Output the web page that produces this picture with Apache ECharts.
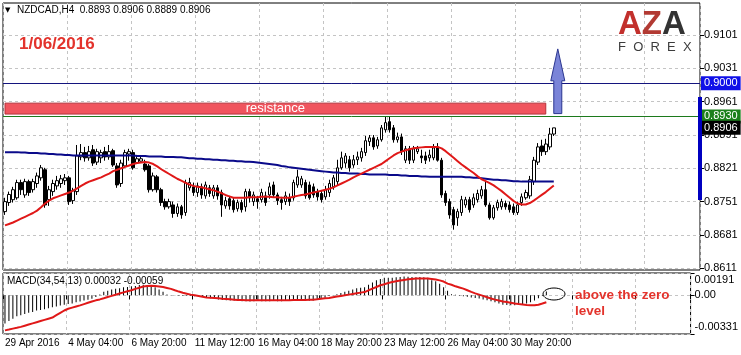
<!DOCTYPE html>
<html>
<head>
<meta charset="utf-8">
<script src="https://cdn.jsdelivr.net/npm/echarts@6/dist/echarts.min.js"></script>
<style>
html,body{margin:0;padding:0;background:#fff;}
#chart{width:741px;height:355px;}
</style>
</head>
<body>
<div id="chart"></div>
<script>
// ---- data ----
const symbolTitle = 'NZDCAD,H4  0.8893 0.8906 0.8889 0.8906';
const dateLabel = '1/06/2016';
const macdTitle = 'MACD(34,54,13) 0.00032 -0.00059';
const slotCount = 174;
const tickLabels = ['29 Apr 2016','4 May 04:00','6 May 20:00','11 May 12:00','16 May 04:00','18 May 20:00','23 May 12:00','26 May 04:00','30 May 20:00'];
const tickEvery = 16;
const priceTicks = [0.8611,0.8681,0.8751,0.8821,0.8891,0.8961,0.9031,0.9101];
const macdTicks = [0.00191,0,-0.00331];
const levelBlue = 0.9000, levelGreen = 0.8930, lastBid = 0.8906;
const resistance = {from:0, to:135, low:0.8935, high:0.8958, label:'resistance'};
const arrow = [138, 0.8936, 0.9005, 0.9072];

// [open, close, low, high]
const candles = [
[0.8730,0.8751,0.8723,0.8759],[0.8749,0.8766,0.8742,0.8772],[0.8755,0.8776,0.8749,0.8782],[0.8759,0.8791,0.8755,0.8797],
[0.8791,0.8776,0.8765,0.8797],[0.8765,0.8793,0.8759,0.8799],[0.8793,0.8770,0.8763,0.8797],[0.8776,0.8793,0.8770,0.8799],
[0.8789,0.8805,0.8780,0.8812],[0.8801,0.8822,0.8795,0.8828],[0.8818,0.8744,0.8738,0.8822],[0.8755,0.8776,0.8742,0.8784],
[0.8772,0.8789,0.8763,0.8797],[0.8784,0.8795,0.8776,0.8805],[0.8789,0.8799,0.8780,0.8807],[0.8795,0.8801,0.8786,0.8809],
[0.8801,0.8751,0.8744,0.8805],[0.8753,0.8774,0.8746,0.8780],[0.8772,0.8847,0.8765,0.8870],[0.8845,0.8854,0.8838,0.8872],
[0.8854,0.8843,0.8835,0.8866],[0.8843,0.8856,0.8837,0.8868],[0.8860,0.8832,0.8826,0.8870],[0.8834,0.8856,0.8828,0.8862],
[0.8843,0.8854,0.8832,0.8860],[0.8856,0.8845,0.8837,0.8866],[0.8845,0.8856,0.8839,0.8870],[0.8858,0.8828,0.8824,0.8862],
[0.8826,0.8786,0.8780,0.8832],[0.8789,0.8832,0.8782,0.8839],[0.8826,0.8854,0.8822,0.8860],[0.8851,0.8856,0.8837,0.8862],
[0.8854,0.8822,0.8818,0.8860],[0.8833,0.8841,0.8832,0.8849],[0.8836,0.8841,0.8835,0.8845],[0.8830,0.8818,0.8814,0.8839],
[0.8826,0.8776,0.8770,0.8830],[0.8776,0.8805,0.8772,0.8812],[0.8803,0.8776,0.8770,0.8807],[0.8776,0.8749,0.8742,0.8780],
[0.8751,0.8740,0.8734,0.8757],[0.8740,0.8751,0.8736,0.8757],[0.8744,0.8726,0.8717,0.8751],[0.8726,0.8740,0.8719,0.8747],
[0.8740,0.8723,0.8715,0.8744],[0.8728,0.8791,0.8721,0.8797],[0.8780,0.8791,0.8774,0.8801],[0.8782,0.8770,0.8763,0.8791],
[0.8770,0.8784,0.8761,0.8791],[0.8782,0.8765,0.8757,0.8789],[0.8763,0.8786,0.8757,0.8793],[0.8780,0.8768,0.8761,0.8786],
[0.8763,0.8780,0.8757,0.8786],[0.8780,0.8763,0.8755,0.8786],[0.8770,0.8744,0.8719,0.8776],[0.8742,0.8753,0.8736,0.8761],
[0.8757,0.8742,0.8734,0.8763],[0.8753,0.8734,0.8728,0.8759],[0.8736,0.8749,0.8730,0.8755],[0.8749,0.8734,0.8728,0.8755],
[0.8740,0.8772,0.8730,0.8778],[0.8772,0.8759,0.8749,0.8778],[0.8751,0.8765,0.8742,0.8772],[0.8757,0.8751,0.8736,0.8763],
[0.8755,0.8770,0.8749,0.8778],[0.8763,0.8749,0.8742,0.8772],[0.8765,0.8782,0.8757,0.8791],[0.8786,0.8765,0.8759,0.8793],
[0.8765,0.8753,0.8744,0.8770],[0.8755,0.8749,0.8734,0.8761],[0.8751,0.8763,0.8744,0.8772],[0.8759,0.8751,0.8742,0.8768],
[0.8759,0.8791,0.8753,0.8797],[0.8786,0.8803,0.8780,0.8818],[0.8786,0.8799,0.8780,0.8805],[0.8791,0.8763,0.8757,0.8797],
[0.8786,0.8759,0.8755,0.8793],[0.8782,0.8765,0.8759,0.8789],[0.8772,0.8761,0.8753,0.8778],[0.8768,0.8755,0.8749,0.8774],
[0.8761,0.8776,0.8755,0.8784],[0.8770,0.8789,0.8761,0.8797],[0.8782,0.8801,0.8776,0.8807],[0.8793,0.8822,0.8786,0.8839],
[0.8822,0.8843,0.8818,0.8856],[0.8832,0.8847,0.8822,0.8853],[0.8839,0.8822,0.8814,0.8847],[0.8828,0.8839,0.8822,0.8849],
[0.8839,0.8845,0.8828,0.8856],[0.8843,0.8856,0.8835,0.8864],[0.8854,0.8879,0.8847,0.8889],[0.8877,0.8885,0.8868,0.8891],
[0.8885,0.8866,0.8860,0.8891],[0.8868,0.8881,0.8862,0.8887],[0.8881,0.8906,0.8877,0.8912],[0.8902,0.8917,0.8896,0.8929],
[0.8919,0.8902,0.8896,0.8929],[0.8906,0.8881,0.8875,0.8912],[0.8881,0.8887,0.8875,0.8896],[0.8887,0.8856,0.8849,0.8894],
[0.8838,0.8862,0.8832,0.8868],[0.8862,0.8838,0.8830,0.8868],[0.8838,0.8862,0.8832,0.8868],[0.8856,0.8862,0.8851,0.8868],
[0.8847,0.8843,0.8832,0.8860],[0.8847,0.8838,0.8830,0.8856],[0.8843,0.8849,0.8835,0.8860],[0.8843,0.8864,0.8838,0.8872],
[0.8866,0.8838,0.8835,0.8874],[0.8838,0.8765,0.8759,0.8843],[0.8768,0.8749,0.8742,0.8774],[0.8751,0.8723,0.8715,0.8757],
[0.8734,0.8702,0.8692,0.8740],[0.8717,0.8730,0.8700,0.8736],[0.8728,0.8755,0.8721,0.8763],[0.8744,0.8755,0.8738,0.8761],
[0.8755,0.8734,0.8728,0.8761],[0.8744,0.8759,0.8738,0.8768],[0.8755,0.8768,0.8749,0.8776],[0.8763,0.8776,0.8757,0.8784],
[0.8776,0.8744,0.8740,0.8793],[0.8744,0.8717,0.8713,0.8749],[0.8717,0.8738,0.8713,0.8744],[0.8738,0.8749,0.8732,0.8755],
[0.8740,0.8751,0.8734,0.8757],[0.8747,0.8740,0.8734,0.8753],[0.8744,0.8734,0.8728,0.8751],[0.8740,0.8728,0.8723,0.8747],
[0.8728,0.8744,0.8723,0.8751],[0.8749,0.8761,0.8742,0.8768],[0.8759,0.8770,0.8755,0.8776],[0.8763,0.8797,0.8757,0.8805],
[0.8793,0.8838,0.8786,0.8845],[0.8834,0.8866,0.8828,0.8874],[0.8868,0.8856,0.8847,0.8881],[0.8856,0.8872,0.8849,0.8883],
[0.8866,0.8893,0.8860,0.8906],[0.8893,0.8906,0.8889,0.8906]
];

const maSlow = [
0.8855,0.8855,0.8855,0.8855,0.8854,0.8854,0.8853,0.8853,0.8853,0.8852,
0.8852,0.8851,0.8851,0.8850,0.8850,0.8849,0.8849,0.8848,0.8848,0.8848,
0.8848,0.8848,0.8848,0.8848,0.8848,0.8848,0.8848,0.8848,0.8848,0.8848,
0.8848,0.8848,0.8848,0.8847,0.8847,0.8847,0.8846,0.8846,0.8846,0.8846,
0.8845,0.8845,0.8845,0.8844,0.8844,0.8843,0.8842,0.8842,0.8841,0.8841,
0.8840,0.8840,0.8839,0.8839,0.8838,0.8838,0.8837,0.8837,0.8836,0.8836,
0.8835,0.8835,0.8834,0.8833,0.8832,0.8831,0.8830,0.8829,0.8828,0.8826,
0.8825,0.8823,0.8822,0.8821,0.8820,0.8819,0.8818,0.8817,0.8816,0.8815,
0.8814,0.8813,0.8812,0.8812,0.8811,0.8811,0.8810,0.8810,0.8810,0.8809,
0.8809,0.8808,0.8808,0.8808,0.8808,0.8808,0.8807,0.8807,0.8807,0.8806,
0.8806,0.8805,0.8805,0.8805,0.8804,0.8804,0.8803,0.8803,0.8803,0.8803,
0.8803,0.8803,0.8803,0.8803,0.8803,0.8802,0.8802,0.8801,0.8801,0.8800,
0.8799,0.8798,0.8797,0.8797,0.8796,0.8796,0.8795,0.8794,0.8794,0.8793,
0.8793,0.8793,0.8793,0.8793,0.8793,0.8793,0.8793,0.8793
];

const maFast = [
0.8701,0.8704,0.8707,0.8711,0.8715,0.8719,0.8723,0.8727,0.8732,0.8739,
0.8747,0.8753,0.8758,0.8761,0.8764,0.8767,0.8770,0.8774,0.8779,0.8784,
0.8789,0.8793,0.8796,0.8799,0.8802,0.8806,0.8810,0.8815,0.8818,0.8821,
0.8824,0.8827,0.8830,0.8832,0.8833,0.8834,0.8833,0.8830,0.8825,0.8819,
0.8814,0.8809,0.8804,0.8799,0.8795,0.8791,0.8787,0.8784,0.8782,0.8781,
0.8779,0.8777,0.8775,0.8772,0.8769,0.8765,0.8762,0.8759,0.8759,0.8759,
0.8759,0.8760,0.8760,0.8760,0.8761,0.8761,0.8761,0.8760,0.8760,0.8759,
0.8759,0.8759,0.8761,0.8763,0.8765,0.8766,0.8768,0.8770,0.8772,0.8774,
0.8776,0.8778,0.8781,0.8785,0.8789,0.8793,0.8797,0.8802,0.8806,0.8810,
0.8814,0.8818,0.8822,0.8826,0.8830,0.8836,0.8842,0.8848,0.8853,0.8856,
0.8859,0.8861,0.8863,0.8864,0.8865,0.8866,0.8866,0.8866,0.8866,0.8863,
0.8857,0.8850,0.8843,0.8836,0.8829,0.8823,0.8817,0.8811,0.8804,0.8798,
0.8794,0.8790,0.8785,0.8779,0.8773,0.8766,0.8759,0.8752,0.8747,0.8745,
0.8745,0.8748,0.8753,0.8759,0.8765,0.8771,0.8778,0.8785
];

const macdMain = [
-0.00242,-0.0022,-0.0020,-0.0018,-0.0017,-0.0016,-0.0015,-0.00143,-0.0013,-0.00125,
-0.0012,-0.0011,-0.00102,-0.00095,-0.00088,-0.0008,-0.00075,-0.0007,-0.0006,-0.00052,
-0.00045,-0.00038,-0.0003,-0.00015,0.00008,0.0003,0.0004,0.0005,0.00057,0.0006,
0.00068,0.00072,0.00077,0.0008,0.00088,0.0009,0.00088,0.00085,0.0007,0.0005,
0.0003,0.00008,0.00003,-0.00002,-0.00003,-0.00005,-0.00005,-0.00006,-0.00008,-0.0001,
-0.00015,-0.0002,-0.00025,-0.0003,-0.00035,-0.0004,-0.00042,-0.00045,-0.00045,-0.00048,
-0.0005,-0.0005,-0.00052,-0.0005,-0.00049,-0.0005,-0.00051,-0.0005,-0.00048,-0.0005,
-0.0005,-0.00049,-0.00046,-0.00045,-0.00047,-0.00048,-0.00047,-0.00046,-0.00045,-0.0004,
-0.0003,-0.0002,-0.00005,0.00003,0.0001,0.0002,0.0003,0.0004,0.0005,0.0006,
0.00065,0.0007,0.0009,0.0011,0.00128,0.0014,0.0015,0.0015,0.0015,0.00155,
0.00157,0.0016,0.00158,0.00156,0.00155,0.00157,0.00155,0.0015,0.0013,0.0012,
0.001,0.0007,0.0004,0.0001,0.00004,-0.00003,-0.00008,-0.00012,-0.00018,-0.00022,
-0.00028,-0.00035,-0.00042,-0.0005,-0.0006,-0.0007,-0.0008,-0.00083,-0.00086,-0.00086,
-0.00083,-0.0008,-0.0007,-0.0006,-0.00045,-0.00025,-0.00005,0.00032
];

const macdSignal = [
-0.0030,-0.00293,-0.00285,-0.00278,-0.0027,-0.0026,-0.0025,-0.0024,-0.0023,-0.0022,
-0.0021,-0.0020,-0.0019,-0.0017,-0.0015,-0.0013,-0.00115,-0.00105,-0.00095,-0.00086,
-0.00075,-0.00064,-0.00053,-0.00043,-0.00035,-0.00025,-0.00014,-0.00005,0.00005,0.00015,
0.00025,0.00035,0.00043,0.00055,0.00065,0.00075,0.0008,0.00081,0.0008,0.00076,
0.00071,0.00063,0.00055,0.00043,0.00032,0.00022,0.00014,0.00006,0.0,-0.00006,
-0.00012,-0.00018,-0.0002,-0.00023,-0.00026,-0.00029,-0.00031,-0.00034,-0.00037,-0.0004,
-0.00041,-0.00042,-0.00043,-0.00043,-0.00043,-0.00043,-0.00043,-0.00043,-0.00043,-0.00043,
-0.00043,-0.00043,-0.00042,-0.00041,-0.0004,-0.0004,-0.00039,-0.00038,-0.00037,-0.00034,
-0.0003,-0.00026,-0.00023,-0.00016,-0.0001,-0.00005,0.0,0.00006,0.00012,0.00018,
0.00023,0.00028,0.00043,0.00057,0.00071,0.00086,0.00095,0.00105,0.00114,0.0012,
0.00126,0.00132,0.00137,0.0014,0.00143,0.00143,0.00143,0.00143,0.0014,0.00135,
0.00128,0.00118,0.001,0.0009,0.00077,0.00067,0.00057,0.00043,0.00029,0.00017,
0.00006,-0.00005,-0.00017,-0.00027,-0.00037,-0.00045,-0.00052,-0.00058,-0.00064,-0.0007,
-0.00075,-0.00079,-0.00083,-0.00086,-0.00085,-0.0008,-0.0007,-0.00059
];

// ---- chart ----
const categories = Array.from({length: slotCount}, (_, i) => String(i));
const FONT = 'Liberation Sans, Arial, sans-serif';
const gridLine = {show: true, interval: tickEvery - 1, lineStyle: {color: '#c4c4c4', type: [3, 3], width: 1}};
const chart = echarts.init(document.getElementById('chart'), null, {renderer: 'canvas'});

function levelLabel(bg) {
  return {show: true, position: 'end', distance: 1, formatter: p => Number(p.value).toFixed(4),
    backgroundColor: bg, color: '#fff', padding: [2, 3, 1, 3], fontSize: 11, fontFamily: FONT};
}

const option = {
  animation: false,
  backgroundColor: '#fff',
  grid: [
    {left: 3, right: 41, top: 3, height: 267, show: true, borderColor: '#000', borderWidth: 1},
    {left: 3, right: 41, top: 273, height: 61, show: true, borderColor: '#000', borderWidth: 1}
  ],
  xAxis: [
    {gridIndex: 0, type: 'category', data: categories, boundaryGap: true,
     axisLine: {show: false}, axisTick: {show: false}, axisLabel: {show: false}, splitLine: gridLine},
    {gridIndex: 1, type: 'category', data: categories, boundaryGap: true,
     axisLine: {show: false},
     axisTick: {show: true, interval: tickEvery - 1, length: 4, lineStyle: {color: '#000'}},
     axisLabel: {show: true, interval: tickEvery - 1, align: 'left', margin: 4, fontSize: 10, color: '#000', fontFamily: FONT,
       formatter: (v, idx) => (idx % tickEvery === 0 && tickLabels[idx / tickEvery]) ? tickLabels[idx / tickEvery] : ''},
     splitLine: gridLine}
  ],
  yAxis: [
    {gridIndex: 0, type: 'value', position: 'right', min: 0.86072, max: 0.91685, scale: true,
     axisLine: {show: false},
     axisTick: {show: true, customValues: priceTicks, length: 4, lineStyle: {color: '#000'}},
     axisLabel: {customValues: priceTicks, formatter: v => v.toFixed(4), fontSize: 11, color: '#000', margin: 4, fontFamily: FONT},
     splitLine: {show: true, lineStyle: {color: '#c4c4c4', type: [3, 3]}}},
    {gridIndex: 1, type: 'value', position: 'right', min: -0.00331, max: 0.00191,
     axisLine: {show: false},
     axisTick: {show: true, customValues: macdTicks, length: 4, lineStyle: {color: '#000'}},
     axisLabel: {customValues: macdTicks, fontSize: 11, color: '#000', margin: 4, fontFamily: FONT,
       formatter: v => v > 0 ? '{t|' + v.toFixed(5) + '}' : (v < 0 ? '{b|' + v.toFixed(5) + '}' : '0.00'),
       rich: {t: {padding: [14, 0, 0, 0], fontSize: 11, fontFamily: FONT}, b: {padding: [0, 0, 14, 0], fontSize: 11, fontFamily: FONT}}},
     splitLine: {show: true, lineStyle: {color: '#c4c4c4', type: [3, 3]}}}
  ],
  series: [
    {type: 'candlestick', xAxisIndex: 0, yAxisIndex: 0, data: candles, barWidth: 3,
     itemStyle: {color: '#fff', color0: '#000', borderColor: '#000', borderColor0: '#000', borderWidth: 1},
     markArea: {silent: true,
       itemStyle: {color: '#f0555e', borderColor: '#b4323a', borderWidth: 1},
       label: {show: true, position: 'inside', color: '#fff', fontSize: 13, fontFamily: FONT, formatter: resistance.label},
       data: [[{xAxis: resistance.from, yAxis: resistance.low}, {xAxis: resistance.to, yAxis: resistance.high}]]},
     markLine: {silent: true, symbol: ['none', 'none'], precision: 4,
       data: [
         {yAxis: levelBlue, lineStyle: {color: '#14147e', width: 1, type: 'solid'}, label: levelLabel('#1010e8')},
         {yAxis: levelGreen, lineStyle: {color: '#1c7a1c', width: 1, type: 'solid'}, label: levelLabel('#1c801c')},
         {yAxis: lastBid, lineStyle: {color: 'rgba(255,255,255,0)', width: 1, type: 'solid'}, label: levelLabel('#000')}
       ]}},
    {type: 'line', xAxisIndex: 0, yAxisIndex: 0, data: maSlow, showSymbol: false, symbol: 'none',
     lineStyle: {color: '#0a0a8a', width: 2}, z: 3},
    {type: 'line', xAxisIndex: 0, yAxisIndex: 0, data: maFast, showSymbol: false, symbol: 'none',
     lineStyle: {color: '#e01818', width: 2}, z: 3},
    {type: 'custom', xAxisIndex: 0, yAxisIndex: 0, data: [arrow], encode: {x: 0, y: [1, 2, 3]}, z: 6,
     renderItem: (params, api) => {
       const xi = api.value(0);
       const b = api.coord([xi, api.value(1)]);
       const h = api.coord([xi, api.value(2)]);
       const t = api.coord([xi, api.value(3)]);
       const bw = 4, hw = 7;
       return {type: 'polygon', shape: {points: [[b[0]-bw, b[1]], [b[0]-bw, h[1]], [b[0]-hw, h[1]], [t[0], t[1]], [b[0]+hw, h[1]], [b[0]+bw, h[1]], [b[0]+bw, b[1]]]},
         style: {fill: '#7a84d8', stroke: '#2b3690', lineWidth: 1}};
     }},
    {type: 'bar', xAxisIndex: 1, yAxisIndex: 1, data: macdMain, barWidth: 1, itemStyle: {color: '#000'}},
    {type: 'line', xAxisIndex: 1, yAxisIndex: 1, data: macdSignal, showSymbol: false, symbol: 'none',
     lineStyle: {color: '#e01818', width: 2}, z: 3}
  ],
  graphic: [
    {type: 'rect', left: 698, top: 97, shape: {width: 4, height: 103}, style: {fill: '#0000c0'}, z: 10},
    {type: 'text', left: 5, top: 7, style: {text: '▼', fontSize: 7, fill: '#000', fontFamily: 'DejaVu Sans'}, z: 10},
    {type: 'text', left: 17, top: 5, style: {text: symbolTitle, fontSize: 10, fill: '#000', fontFamily: FONT}, z: 10},
    {type: 'text', left: 19, top: 36, style: {text: dateLabel, fontSize: 17, fontWeight: 'bold', fill: '#e3332c', fontFamily: FONT}, z: 10},
    {type: 'text', left: 618, top: 8, style: {text: '{r|A}{z|Z}{d|A}', fontFamily: FONT,
      rich: {r: {fontSize: 33, fontWeight: 'bold', fill: '#c2302c', fontFamily: FONT},
             z: {fontSize: 33, fontWeight: 'bold', fill: '#b23a33', fontFamily: FONT},
             d: {fontSize: 33, fontWeight: 'bold', fill: '#333333', fontFamily: FONT}}}, z: 10},
    {type: 'text', left: 618, top: 41, style: {text: 'F  O  R  E  X', fontSize: 13, fill: '#3c3c3c', fontFamily: FONT}, z: 10},
    {type: 'text', left: 7, top: 276, style: {text: macdTitle, fontSize: 10, fill: '#000', fontFamily: FONT}, z: 10},
    {type: 'text', left: 575, top: 287, style: {text: 'above the zero\nlevel', fontSize: 13.5, lineHeight: 16, fontWeight: 'bold', fill: '#e3332c', fontFamily: FONT}, z: 10},
    {type: 'ellipse', shape: {cx: 554, cy: 294, rx: 11, ry: 6}, style: {fill: 'none', stroke: '#000', lineWidth: 1}, z: 10}
  ]
};
chart.setOption(option);
</script>
</body>
</html>
